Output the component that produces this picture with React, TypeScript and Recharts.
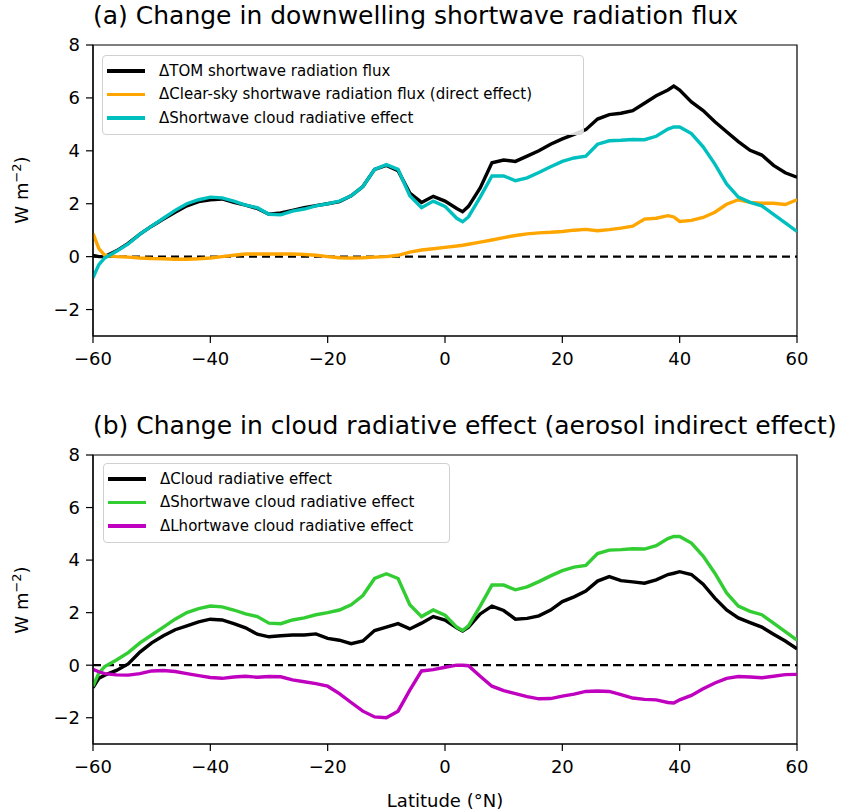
import { LineChart, Line, XAxis, YAxis, ReferenceLine, ReferenceArea } from 'recharts';

// latitude grid (°N)
const LAT = [
  -60, -59, -58, -56, -54, -52, -50, -48, -46, -44, -42, -40, -38, -36, -34, -32,
  -30, -28, -26, -24, -22, -20, -18, -16, -14, -12, -10, -8, -6, -4, -2, 0,
  2, 3, 4, 6, 8, 10, 12, 14, 16, 18, 20, 22, 24, 26, 28, 30,
  32, 34, 36, 38, 39, 40, 42, 44, 46, 48, 50, 52, 54, 56, 58, 60,
];

// (a) ΔTOM shortwave radiation flux
const TOM_SW = [
  0.05, 0.0, 0.0, 0.22, 0.5, 0.85, 1.15, 1.42, 1.68, 1.92, 2.08, 2.15, 2.18, 2.05, 1.95, 1.82,
  1.6, 1.65, 1.75, 1.85, 1.93, 2.0, 2.08, 2.3, 2.65, 3.3, 3.45, 3.25, 2.4, 2.05, 2.28, 2.1,
  1.82, 1.7, 1.9, 2.6, 3.55, 3.65, 3.6, 3.8, 4.0, 4.25, 4.45, 4.62, 4.8, 5.2, 5.37, 5.42,
  5.52, 5.8, 6.08, 6.3, 6.45, 6.3, 5.85, 5.52, 5.1, 4.72, 4.35, 4.02, 3.84, 3.45, 3.17, 3.0,
];

// (a) ΔClear-sky shortwave radiation flux (direct effect)
const CLEAR_SW = [
  0.88, 0.3, 0.05, 0.0, -0.02, -0.05, -0.07, -0.08, -0.1, -0.1, -0.08, -0.05, 0.0, 0.05, 0.1, 0.1,
  0.1, 0.1, 0.1, 0.08, 0.05, 0.0, -0.04, -0.05, -0.04, -0.02, 0.0, 0.05, 0.17, 0.25, 0.3, 0.35,
  0.4, 0.43, 0.47, 0.55, 0.63, 0.72, 0.8, 0.86, 0.9, 0.92, 0.95, 1.0, 1.03, 0.98, 1.02, 1.08,
  1.15, 1.42, 1.45, 1.55, 1.5, 1.33, 1.37, 1.48, 1.68, 1.98, 2.15, 2.05, 2.02, 2.02, 1.97, 2.15,
];

// ΔShortwave cloud radiative effect (both panels)
const SW_CRE = [
  -0.8, -0.3, -0.05, 0.2, 0.48, 0.85, 1.15, 1.45, 1.75, 2.0, 2.15, 2.25, 2.22, 2.1, 1.95, 1.85,
  1.6, 1.58, 1.72, 1.8, 1.92, 2.0, 2.1, 2.3, 2.65, 3.3, 3.48, 3.3, 2.3, 1.85, 2.1, 1.9,
  1.45, 1.32, 1.5, 2.25, 3.05, 3.05, 2.87, 2.98, 3.18, 3.4, 3.6, 3.73, 3.8, 4.25, 4.38, 4.4,
  4.43, 4.42, 4.55, 4.82, 4.9, 4.9, 4.65, 4.15, 3.5, 2.75, 2.25, 2.05, 1.92, 1.6, 1.28, 0.95,
];

// (b) ΔCloud radiative effect
const NET_CRE = [
  -0.85, -0.5, -0.38, -0.2, 0.05, 0.5, 0.85, 1.12, 1.35, 1.5, 1.65, 1.75, 1.72, 1.58, 1.42, 1.18,
  1.08, 1.12, 1.15, 1.15, 1.19, 1.02, 0.95, 0.82, 0.92, 1.32, 1.45, 1.58, 1.38, 1.6, 1.85, 1.72,
  1.42, 1.3, 1.45, 1.95, 2.25, 2.08, 1.75, 1.78, 1.88, 2.1, 2.42, 2.6, 2.82, 3.2, 3.37, 3.22,
  3.17, 3.12, 3.25, 3.45, 3.5, 3.56, 3.45, 3.08, 2.55, 2.1, 1.8, 1.62, 1.45, 1.18, 0.92, 0.62,
];

// (b) ΔLongwave cloud radiative effect
const LW_CRE = [
  -0.16, -0.25, -0.32, -0.37, -0.38, -0.32, -0.22, -0.2, -0.24, -0.32, -0.4, -0.47, -0.5, -0.45, -0.42, -0.46,
  -0.43, -0.44, -0.56, -0.63, -0.7, -0.8, -1.08, -1.42, -1.75, -1.97, -2.0, -1.75, -0.95, -0.22, -0.17, -0.08,
  0.0, 0.0, -0.02, -0.42, -0.8, -0.97, -1.08, -1.2, -1.28, -1.27, -1.18, -1.1, -1.0, -0.98, -1.0, -1.12,
  -1.25, -1.3, -1.32, -1.42, -1.44, -1.32, -1.15, -0.9, -0.68, -0.5, -0.43, -0.45, -0.48, -0.42, -0.36, -0.35,
];

const X_TICKS = [-60, -40, -20, 0, 20, 40, 60];
const Y_TICKS = [-2, 0, 2, 4, 6, 8];

const FONT = '"DejaVu Sans", sans-serif';

const dataA = LAT.map((lat, i) => ({ lat, tom: TOM_SW[i], clear: CLEAR_SW[i], sw: SW_CRE[i] }));
const dataB = LAT.map((lat, i) => ({ lat, net: NET_CRE[i], sw: SW_CRE[i], lw: LW_CRE[i] }));

const seriesA = [
  { key: 'tom', name: 'ΔTOM shortwave radiation flux', color: '#000000' },
  { key: 'clear', name: 'ΔClear-sky shortwave radiation flux (direct effect)', color: '#ffa500' },
  { key: 'sw', name: 'ΔShortwave cloud radiative effect', color: '#00bfbf' },
];
const seriesB = [
  { key: 'net', name: 'ΔCloud radiative effect', color: '#000000' },
  { key: 'sw', name: 'ΔShortwave cloud radiative effect', color: '#32cd32' },
  { key: 'lw', name: 'ΔLhortwave cloud radiative effect', color: '#bf00bf' },
];

const minus = (v: number) => String(v).replace('-', '\u2212');
const tickStyle = { fontSize: 18, fill: '#000', fontFamily: FONT };

type Series = { key: string; name: string; color: string };

function Panel({ top, height, marginBottom, data, series, title, legendBox }: {
  top: number; height: number; marginBottom: number; data: any[]; series: Series[];
  title: string; legendBox: { left: number; top: number; width: number };
}) {
  return (
    <div style={{ position: 'absolute', left: 0, top, width: 846, height }}>
      <div style={{ position: 'absolute', left: 93, top: 1, fontSize: 25, lineHeight: '30px', fontFamily: FONT, color: '#000', whiteSpace: 'nowrap' }}>
        {title}
      </div>
      <div style={{
        position: 'absolute', left: 20, top: 45 + 145, fontSize: 18, fontFamily: FONT, color: '#000',
        transform: 'translate(-50%, -50%) rotate(-90deg)', whiteSpace: 'nowrap',
      }}>
        W m<sup style={{ fontSize: 13 }}>{'\u22122'}</sup>)
      </div>
      <LineChart width={846} height={height} data={data} margin={{ top: 45, right: 49, left: 33, bottom: marginBottom }}>
        <XAxis
          dataKey="lat" type="number" domain={[-60, 60]} ticks={X_TICKS} allowDataOverflow
          tickFormatter={minus} tick={tickStyle} tickSize={7} tickMargin={9} height={40}
          stroke="#000" axisLine={{ stroke: '#000', strokeWidth: 1.2 }} tickLine={{ stroke: '#000', strokeWidth: 1.2 }}
        />
        <YAxis
          type="number" domain={[-3, 8]} ticks={Y_TICKS} allowDataOverflow
          tickFormatter={minus} tick={tickStyle} tickSize={7} tickMargin={6} width={60}
          stroke="#000" axisLine={{ stroke: '#000', strokeWidth: 1.2 }} tickLine={{ stroke: '#000', strokeWidth: 1.2 }}
        />
        <ReferenceArea x1={-60} x2={60} y1={-3} y2={8} fill="none" stroke="#000" strokeWidth={1.2} />
        <ReferenceLine y={0} stroke="#000" strokeWidth={2.2} strokeDasharray="8 5" />
        {series.map((s) => (
          <Line key={s.key} type="linear" dataKey={s.key} stroke={s.color} strokeWidth={3.4} dot={false} isAnimationActive={false} />
        ))}
      </LineChart>
      <div style={{
        position: 'absolute', left: legendBox.left, top: legendBox.top, width: legendBox.width,
        border: '1px solid #d0d0d0', borderRadius: 4, background: 'rgba(255,255,255,0.85)',
        padding: '3px 0 4px 0', fontFamily: FONT, fontSize: 15, color: '#000',
      }}>
        {series.map((s) => (
          <div key={s.key} style={{ display: 'flex', alignItems: 'center', height: 23.5 }}>
            <span style={{ display: 'inline-block', width: 38, height: 3.5, background: s.color, marginLeft: 4, marginRight: 14 }} />
            <span style={{ whiteSpace: 'nowrap' }}>{s.name}</span>
          </div>
        ))}
      </div>
    </div>
  );
}

export default function App() {
  return (
    <div style={{ position: 'absolute', left: 0, top: 0, width: 846, height: 811, background: '#fff' }}>
      <Panel
        top={0} height={400} marginBottom={24} data={dataA} series={seriesA}
        title="(a) Change in downwelling shortwave radiation flux"
        legendBox={{ left: 102, top: 55, width: 480 }}
      />
      <Panel
        top={410} height={401} marginBottom={27} data={dataB} series={seriesB}
        title="(b) Change in cloud radiative effect (aerosol indirect effect)"
        legendBox={{ left: 103, top: 53, width: 345 }}
      />
      <div style={{
        position: 'absolute', left: 445, top: 800, transform: 'translate(-50%, -50%)',
        fontFamily: FONT, fontSize: 18, color: '#000', whiteSpace: 'nowrap',
      }}>
        Latitude (°N)
      </div>
    </div>
  );
}
